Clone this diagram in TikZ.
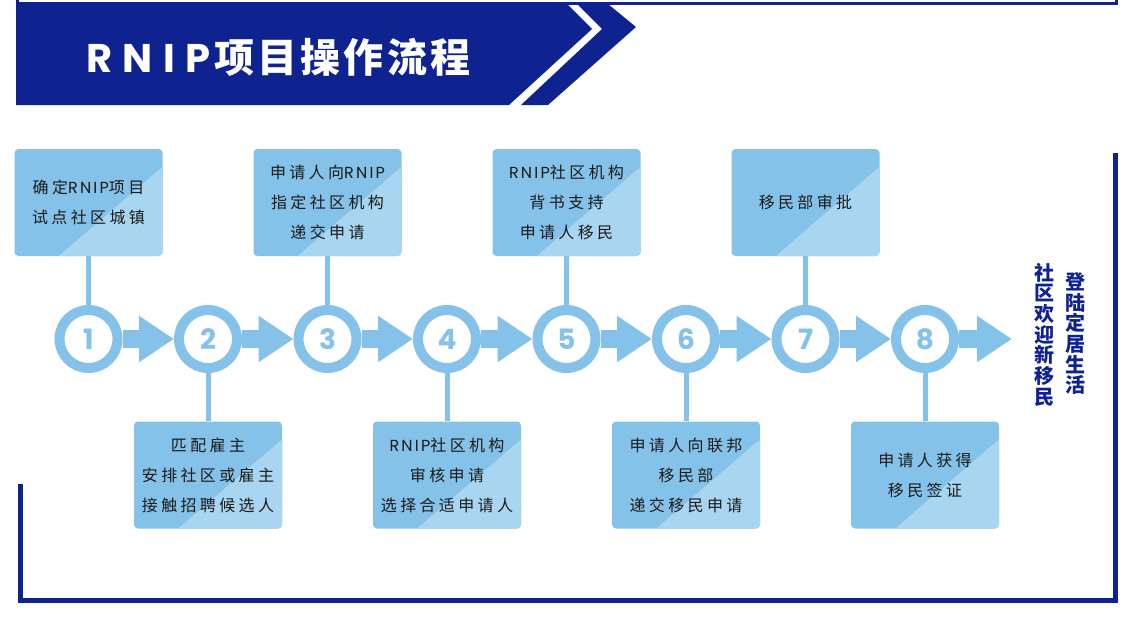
\documentclass[tikz,border=0pt]{standalone}
\usepackage{fontspec}
\setmainfont{Noto Sans CJK SC}
\newfontfamily\cjk{Noto Sans CJK SC}[LetterSpace=21]
\newfontfamily\hcjk{Noto Sans CJK SC}[LetterSpace=8]
\newfontfamily\vcjk{Noto Sans CJK SC}
\newfontfamily\pop{Poppins}[LetterSpace=14]
\newfontfamily\hpop{Poppins}[LetterSpace=26]
\newfontfamily\popn{Poppins}
\usetikzlibrary{arrows.meta,calc}
\definecolor{navy}{HTML}{0E2290}
\definecolor{sky}{HTML}{85C2E9}
\definecolor{boxdark}{HTML}{85C2E9}
\definecolor{boxlight}{HTML}{A8D5F0}
\definecolor{txt}{HTML}{1A1A1A}
\newcommand\boxfont{\cjk\fontsize{16}{30}\selectfont}
\newcommand\numfont{\popn\bfseries\fontsize{28}{28}\selectfont}
\newcommand\vfont{\vcjk\bfseries\fontsize{20}{20.7}\selectfont}
\tikzset{
  boxnode/.style={rectangle, rounded corners=4pt, minimum width=148pt, minimum height=107pt,
    inner sep=0pt, fill=boxdark, align=center, font=\boxfont, text=txt,
    path picture={\fill[boxlight]
      ($(path picture bounding box.south west)+(43pt,-1pt)$) --
      ($(path picture bounding box.north east)+(1pt,-17pt)$) --
      ($(path picture bounding box.south east)+(1pt,-1pt)$) -- cycle;}},
  stepcircle/.style={circle, minimum size=58pt, inner sep=0pt, line width=10pt,
    draw=sky, fill=white, font=\numfont, text=sky},
  flowarrow/.style={draw=sky, line width=18pt, -{Triangle[length=35pt,width=44pt]}},
  stem/.style={draw=sky, line width=5pt},
  vtext/.style={align=center, inner sep=0pt, font=\vfont, text=navy},
  frameline/.style={draw=navy, line join=miter}
}
\begin{document}
\begin{tikzpicture}[x=1pt,y=-1pt]
\fill[white] (0,0) rectangle (1139,630);
\useasboundingbox (0,0) rectangle (1139,630);

% header banner
\fill[navy] (16,4) -- (567,4) -- (592,29) -- (509,105) -- (16,105) -- cycle;
\fill[navy] (577,4) -- (608,4) -- (636,27) -- (548,105) -- (521,105) -- (602,29) -- cycle;
\draw[frameline, line width=3pt] (17.5,-2) -- (17.5,3.5) -- (1116.5,3.5) -- (1116.5,-2);
\node[anchor=base west, text=white, inner sep=0pt] (title) at (86,72)
  {\fontsize{40}{40}\selectfont{\hpop\bfseries RNIP}\hspace{4pt}{\hcjk\bfseries 项目操作流程}};

% frame
\draw[frameline, line width=5pt] (20.5,484) -- (20.5,600.5) -- (1115.5,600.5) -- (1115.5,153);

% circles
\node[stepcircle] (c1) at (88.5,339) {1};
\node[stepcircle] (c2) at (208,339) {2};
\node[stepcircle] (c3) at (327.5,339) {3};
\node[stepcircle] (c4) at (447,339) {4};
\node[stepcircle] (c5) at (566.5,339) {5};
\node[stepcircle] (c6) at (686,339) {6};
\node[stepcircle] (c7) at (805.5,339) {7};
\node[stepcircle] (c8) at (925,339) {8};
\coordinate (cend) at (1012,339);

% boxes
\node[boxnode] (b1) at (88.5,202.5) {确定{\pop RNIP}项目\\试点社区城镇};
\node[boxnode] (b2) at (208,475) {匹配雇主\\安排社区或雇主\\接触招聘候选人};
\node[boxnode] (b3) at (327.5,202.5) {申请人向{\pop RNIP}\\指定社区机构\\递交申请};
\node[boxnode] (b4) at (447,475) {{\pop RNIP}社区机构\\审核申请\\选择合适申请人};
\node[boxnode] (b5) at (566.5,202.5) {{\pop RNIP}社区机构\\背书支持\\申请人移民};
\node[boxnode] (b6) at (686,475) {申请人向联邦\\移民部\\递交移民申请};
\node[boxnode] (b7) at (805.5,202.5) {移民部审批};
\node[boxnode] (b8) at (925,475) {申请人获得\\移民签证};

% stems
\draw[stem] (b1) -- (c1);
\draw[stem] (c2) -- (b2);
\draw[stem] (b3) -- (c3);
\draw[stem] (c4) -- (b4);
\draw[stem] (b5) -- (c5);
\draw[stem] (c6) -- (b6);
\draw[stem] (b7) -- (c7);
\draw[stem] (c8) -- (b8);

% arrows
\draw[flowarrow] (c1) -- (c2);
\draw[flowarrow] (c2) -- (c3);
\draw[flowarrow] (c3) -- (c4);
\draw[flowarrow] (c4) -- (c5);
\draw[flowarrow] (c5) -- (c6);
\draw[flowarrow] (c6) -- (c7);
\draw[flowarrow] (c7) -- (c8);
\draw[flowarrow] (c8) -- (cend);

% vertical texts
\node[vtext] (v1) at (1044,334.5) {社\\区\\欢\\迎\\新\\移\\民};
\node[vtext] (v2) at (1075,333.5) {登\\陆\\定\\居\\生\\活};
\end{tikzpicture}
\end{document}
